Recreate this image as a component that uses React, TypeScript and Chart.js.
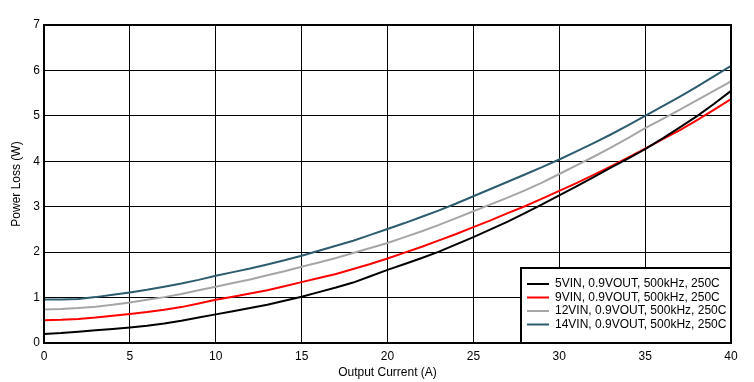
import React, { useEffect, useRef } from "react";
import { Chart, registerables } from "chart.js";

Chart.register(...registerables);

const currents = [
  0, 1, 2, 3, 4, 5, 6, 7, 8, 9, 10, 11, 12, 13, 14, 15, 16, 17, 18, 19, 20,
  21, 22, 23, 24, 25, 26, 27, 28, 29, 30, 31, 32, 33, 34, 35, 36, 37, 38, 39, 40,
];

const loss5Vin = [
  0.2, 0.22, 0.25, 0.28, 0.31, 0.34, 0.38, 0.43, 0.49, 0.56, 0.63, 0.7, 0.77,
  0.84, 0.93, 1.02, 1.12, 1.22, 1.33, 1.47, 1.61, 1.74, 1.87, 2.01, 2.17, 2.33,
  2.5, 2.67, 2.86, 3.05, 3.25, 3.45, 3.65, 3.86, 4.06, 4.27, 4.5, 4.74, 4.99,
  5.26, 5.55,
];

const loss9Vin = [
  0.5, 0.51, 0.53, 0.56, 0.6, 0.64, 0.68, 0.73, 0.79, 0.87, 0.95, 1.02, 1.09,
  1.16, 1.25, 1.34, 1.43, 1.52, 1.63, 1.74, 1.86, 1.99, 2.12, 2.26, 2.4, 2.55,
  2.7, 2.86, 3.01, 3.18, 3.35, 3.52, 3.7, 3.89, 4.08, 4.28, 4.48, 4.68, 4.9,
  5.13, 5.37,
];

const loss12Vin = [
  0.74, 0.75, 0.77, 0.8, 0.84, 0.89, 0.95, 1.01, 1.08, 1.16, 1.24, 1.32, 1.4,
  1.49, 1.58, 1.68, 1.77, 1.87, 1.98, 2.09, 2.2, 2.33, 2.46, 2.6, 2.75, 2.9,
  3.05, 3.2, 3.36, 3.53, 3.72, 3.91, 4.1, 4.3, 4.51, 4.73, 4.93, 5.13, 5.34,
  5.55, 5.76,
];

const loss14Vin = [
  0.96, 0.96, 0.97, 1.01, 1.06, 1.11, 1.17, 1.24, 1.31, 1.39, 1.48, 1.56, 1.64,
  1.73, 1.82, 1.92, 2.03, 2.14, 2.25, 2.38, 2.51, 2.64, 2.78, 2.92, 3.07, 3.23,
  3.39, 3.55, 3.71, 3.87, 4.04, 4.22, 4.4, 4.59, 4.79, 5.0, 5.21, 5.42, 5.64,
  5.87, 6.1,
];

const seriesLabels = [
  "5VIN, 0.9VOUT, 500kHz, 250C",
  "9VIN, 0.9VOUT, 500kHz, 250C",
  "12VIN, 0.9VOUT, 500kHz, 250C",
  "14VIN, 0.9VOUT, 500kHz, 250C",
];
const seriesColors = ["#000000", "#ff0000", "#a6a6a6", "#2c5c6e"];
const seriesValues = [loss5Vin, loss9Vin, loss12Vin, loss14Vin];

const FONT = "'Liberation Sans', Arial, sans-serif";

const framePlugin = {
  id: "frameAndLegend",
  afterDraw(chart: any) {
    const { ctx, chartArea } = chart;
    const { left, right, top, bottom } = chartArea;
    ctx.save();
    ctx.strokeStyle = "#000";
    ctx.lineWidth = 2;
    ctx.strokeRect(left, top, right - left, bottom - top);

    // legend box inside plot, bottom-right
    const boxW = 210;
    const boxH = 75;
    const bx = right - boxW;
    const by = bottom - boxH;
    ctx.fillStyle = "#fff";
    ctx.fillRect(bx, by, boxW, boxH);
    ctx.strokeRect(bx, by, boxW, boxH);

    ctx.font = `12px ${FONT}`;
    ctx.textBaseline = "middle";
    ctx.textAlign = "left";
    chart.data.datasets.forEach((ds: any, i: number) => {
      const yy = by + 16 + i * 13.5;
      ctx.strokeStyle = ds.borderColor;
      ctx.lineWidth = 2;
      ctx.beginPath();
      ctx.moveTo(bx + 6, yy);
      ctx.lineTo(bx + 28, yy);
      ctx.stroke();
      ctx.fillStyle = "#000";
      ctx.fillText(ds.label, bx + 34, yy);
    });
    ctx.restore();
  },
};

export default function App() {
  const canvasRef = useRef<HTMLCanvasElement | null>(null);

  useEffect(() => {
    const canvas = canvasRef.current;
    if (!canvas) return;
    const datasets = seriesValues.map((vals, i) => ({
      label: seriesLabels[i],
      data: currents.map((c, j) => ({ x: c, y: vals[j] })),
      borderColor: seriesColors[i],
      backgroundColor: seriesColors[i],
      borderWidth: 2,
      pointRadius: 0,
      tension: 0,
      fill: false,
    }));

    const chart = new Chart(canvas, {
      type: "line",
      data: { datasets },
      options: {
        responsive: false,
        animation: false,
        maintainAspectRatio: false,
        layout: { padding: { left: 0, right: 23, top: 25, bottom: 0 } },
        plugins: {
          legend: { display: false },
          tooltip: { enabled: false },
        },
        scales: {
          x: {
            type: "linear",
            min: 0,
            max: 40,
            afterFit: (s: any) => {
              s.height = 39;
            },
            ticks: {
              stepSize: 5,
              color: "#000",
              padding: 6,
              maxRotation: 0,
              font: { family: FONT, size: 12 },
            },
            grid: { color: "#000", lineWidth: 1, drawTicks: false },
            border: { display: false },
            title: {
              display: true,
              text: "Output Current (A)",
              color: "#000",
              font: { family: FONT, size: 12 },
              padding: { top: 0, bottom: 2 },
            },
          },
          y: {
            type: "linear",
            min: 0,
            max: 7,
            afterFit: (s: any) => {
              s.width = 44;
            },
            ticks: {
              stepSize: 1,
              color: "#000",
              padding: 4,
              font: { family: FONT, size: 12 },
            },
            grid: { color: "#000", lineWidth: 1, drawTicks: false },
            border: { display: false },
            title: {
              display: true,
              text: "Power Loss (W)",
              color: "#000",
              font: { family: FONT, size: 12 },
              padding: { top: 9, bottom: 0 },
            },
          },
        },
      },
      plugins: [framePlugin],
    });
    return () => chart.destroy();
  }, []);

  return (
    <div style={{ position: "absolute", left: 0, top: 0, width: 754, height: 382, background: "#fff" }}>
      <canvas ref={canvasRef} width={754} height={382} style={{ display: "block" }} />
    </div>
  );
}
